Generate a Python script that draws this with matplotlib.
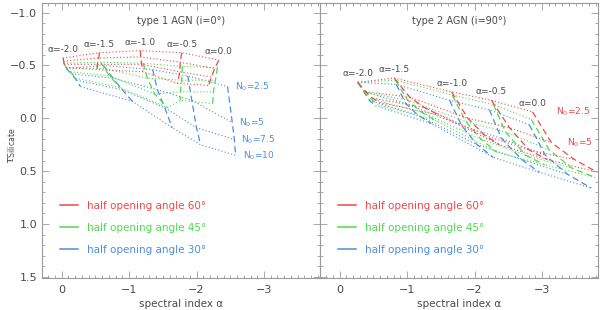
import matplotlib
matplotlib.use("Agg")
import matplotlib.pyplot as plt
import numpy as np
from matplotlib.lines import Line2D
from matplotlib.ticker import MultipleLocator

# grid columns: model alpha -2.0 ... 0.0, grid rows: N0 = 2.5, 5, 7.5, 10
alpha_labels = ['α=-2.0', 'α=-1.5', 'α=-1.0', 'α=-0.5', 'α=0.0']
n0_labels = ['2.5', '5', '7.5', '10']
angle_labels = ['half opening angle 60°', 'half opening angle 45°', 'half opening angle 30°']

# type 1 AGN (i=0)
t1_red_x = [[-0.02, -0.56, -1.17, -1.78, -2.33],
            [-0.03, -0.55, -1.17, -1.76, -2.27],
            [-0.04, -0.53, -1.19, -1.75, -2.22],
            [-0.06, -0.53, -1.20, -1.72, -2.18]]
t1_red_y = [[-0.57, -0.62, -0.64, -0.62, -0.55],
            [-0.54, -0.57, -0.58, -0.53, -0.47],
            [-0.51, -0.51, -0.51, -0.44, -0.39],
            [-0.48, -0.46, -0.44, -0.33, -0.31]]
t1_green_x = [[-0.03, -0.58, -1.21, -1.79, -2.31],
              [-0.07, -0.64, -1.27, -1.78, -2.28],
              [-0.13, -0.71, -1.38, -1.76, -2.25],
              [-0.21, -0.87, -1.57, -1.76, -2.24]]
t1_green_y = [[-0.52, -0.53, -0.52, -0.49, -0.48],
              [-0.48, -0.47, -0.38, -0.36, -0.36],
              [-0.44, -0.40, -0.23, -0.25, -0.25],
              [-0.38, -0.29, -0.10, -0.17, -0.14]]
t1_blue_x = [[-0.07, -0.62, -1.35, -1.87, -2.46],
             [-0.15, -0.76, -1.42, -1.93, -2.53],
             [-0.22, -0.90, -1.53, -2.00, -2.56],
             [-0.28, -1.05, -1.64, -2.06, -2.58]]
t1_blue_y = [[-0.47, -0.50, -0.46, -0.40, -0.30],
             [-0.42, -0.38, -0.27, -0.17, 0.04],
             [-0.36, -0.27, -0.10, 0.09, 0.20],
             [-0.30, -0.16, 0.09, 0.25, 0.35]]

# type 2 AGN (i=90)
t2_red_x = [[-0.27, -0.81, -1.66, -2.25, -2.86],
            [-0.39, -1.04, -1.90, -2.52, -3.14],
            [-0.49, -1.26, -2.15, -2.81, -3.48],
            [-0.59, -1.48, -2.37, -3.08, -3.82]]
t2_red_y = [[-0.34, -0.38, -0.25, -0.17, -0.06],
            [-0.25, -0.20, 0.00, 0.09, 0.23],
            [-0.19, -0.10, 0.16, 0.30, 0.39],
            [-0.15, -0.03, 0.25, 0.39, 0.51]]
t2_green_x = [[-0.27, -0.83, -1.67, -2.28, -2.84],
              [-0.37, -1.01, -1.87, -2.46, -3.11],
              [-0.47, -1.21, -2.10, -2.76, -3.44],
              [-0.56, -1.42, -2.33, -3.04, -3.79]]
t2_green_y = [[-0.34, -0.36, -0.22, -0.13, 0.01],
              [-0.25, -0.17, 0.03, 0.13, 0.30],
              [-0.18, -0.06, 0.20, 0.35, 0.47],
              [-0.13, 0.02, 0.32, 0.44, 0.56]]
t2_blue_x = [[-0.27, -0.84, -1.63, -2.22, -2.81],
             [-0.36, -0.98, -1.81, -2.40, -3.05],
             [-0.44, -1.16, -2.04, -2.70, -3.38],
             [-0.53, -1.36, -2.28, -2.96, -3.73]]
t2_blue_y = [[-0.34, -0.32, -0.17, -0.08, 0.06],
             [-0.25, -0.14, 0.07, 0.19, 0.35],
             [-0.17, -0.03, 0.25, 0.39, 0.53],
             [-0.12, 0.05, 0.37, 0.51, 0.66]]

RED, GREEN, BLUE = '#f04848', '#4cdc4c', '#4a8ee0'
TXT = '#4a4a4a'
AX = '#9a9a9a'

plt.rcParams['font.family'] = ['DejaVu Sans']

fig = plt.figure(figsize=(6, 3.1), dpi=100)
ax1 = fig.add_axes([42/600, 32/310, 278/600, 275/310])
ax2 = fig.add_axes([320/600, 32/310, 278/600, 275/310])


def draw_grid(ax, xs, ys, color):
    xs = np.array(xs)
    ys = np.array(ys)
    # rows of constant N0 dotted, columns of constant alpha dashed
    for i in range(xs.shape[0]):
        ax.plot(xs[i], ys[i], color=color, lw=0.8, ls=(0, (1, 2)))
    for j in range(xs.shape[1]):
        ax.plot(xs[:, j], ys[:, j], color=color, lw=0.9, ls=(0, (5, 3)))


panels = [
    (ax1, 'type 1 AGN (i=0°)',
     [(t1_blue_x, t1_blue_y, BLUE), (t1_green_x, t1_green_y, GREEN), (t1_red_x, t1_red_y, RED)]),
    (ax2, 'type 2 AGN (i=90°)',
     [(t2_blue_x, t2_blue_y, BLUE), (t2_green_x, t2_green_y, GREEN), (t2_red_x, t2_red_y, RED)]),
]

for ax, title, grids in panels:
    for xs, ys, c in grids:
        draw_grid(ax, xs, ys, c)
    ax.set_xlim(0.29, -3.83)
    ax.set_ylim(1.51, -1.09)
    ax.xaxis.set_major_locator(MultipleLocator(1))
    ax.xaxis.set_minor_locator(MultipleLocator(0.1))
    ax.yaxis.set_major_locator(MultipleLocator(0.5))
    ax.yaxis.set_minor_locator(MultipleLocator(0.1))
    ax.tick_params(which='both', direction='in', top=True, right=True,
                   color=AX, width=0.6, labelcolor=TXT, labelsize=8)
    ax.tick_params(which='major', length=5)
    ax.tick_params(which='minor', length=2.5)
    ax.tick_params(axis='x', pad=5)
    ax.tick_params(axis='y', pad=3.5)
    for s in ax.spines.values():
        s.set_color(AX)
        s.set_linewidth(0.8)
    ax.text(0.5, 0.935, title, transform=ax.transAxes, ha='center', va='center',
            fontsize=7, color=TXT)
    ax.set_xlabel('spectral index α', fontsize=7.5, color=TXT, labelpad=3)
    # alpha labels above the top of each grid column
    top_x, top_y = grids[2][0][0], grids[2][1][0]
    for j, lab in enumerate(alpha_labels):
        ax.annotate(lab, (top_x[j], top_y[j]), xytext=(0, 6), textcoords='offset points',
                    ha='center', va='center', fontsize=6.5, color=TXT)
    handles = [Line2D([], [], color=c, lw=1.1) for c in (RED, GREEN, BLUE)]
    ax.legend(handles, angle_labels, loc='lower left', bbox_to_anchor=(0.065, 0.085),
              frameon=False, fontsize=7.5, labelcolor='linecolor', handlelength=1.75,
              handletextpad=0.8, labelspacing=1.15, borderpad=0, borderaxespad=0)

ax2.tick_params(axis='y', labelleft=False)
fig.text(0.02, 0.53, r'$\tau_{\rm Silicate}$', rotation=90, ha='center', va='center',
         fontsize=8, color=TXT)

# N0 labels at the ends of the rows
xs, ys = np.array(t1_blue_x), np.array(t1_blue_y)
for i, lab in enumerate(n0_labels):
    ax1.annotate('N$_0$=' + lab, (xs[i, -1], ys[i, -1]), xytext=(5, 0),
                 textcoords='offset points', ha='left', va='center', fontsize=6.5, color=BLUE)
xs, ys = np.array(t2_red_x), np.array(t2_red_y)
for i, dx in zip(range(2), (17, 11)):
    ax2.annotate('N$_0$=' + n0_labels[i], (xs[i, -1], ys[i, -1]), xytext=(dx, 0),
                 textcoords='offset points', ha='left', va='center', fontsize=6.5, color=RED)

fig.savefig('out.png', dpi=100)
